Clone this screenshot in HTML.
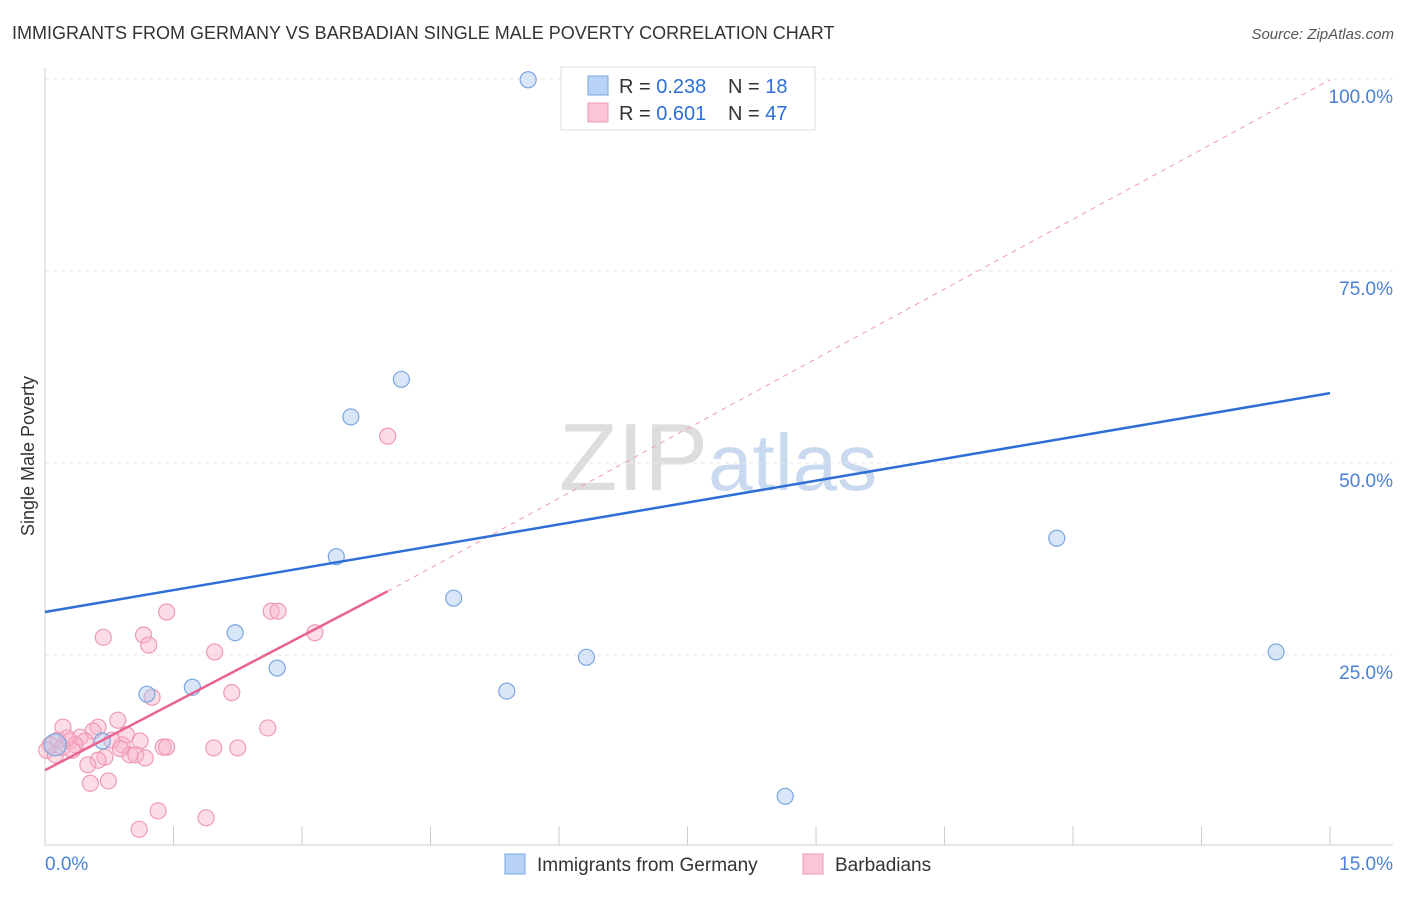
<!DOCTYPE html>
<html><head><meta charset="utf-8">
<style>
body{margin:0;background:#fff;font-family:"Liberation Sans",sans-serif;}
svg text{font-family:"Liberation Sans",sans-serif;}
</style></head>
<body>
<svg id="chart" width="1406" height="892" xmlns="http://www.w3.org/2000/svg">
<text x="12" y="39" font-size="18" fill="#333">IMMIGRANTS FROM GERMANY VS BARBADIAN SINGLE MALE POVERTY CORRELATION CHART</text>
<text x="1394" y="39" font-size="15" fill="#555" text-anchor="end" font-style="italic">Source: ZipAtlas.com</text>
<text x="718" y="490" font-size="96" text-anchor="middle" fill="#ddd" font-family="Liberation Serif"><tspan>ZIP</tspan><tspan fill="#c9daf0" font-family="Liberation Sans" font-size="80">atlas</tspan></text>
<text transform="translate(34,456) rotate(-90)" font-size="18" fill="#333" text-anchor="middle">Single Male Poverty</text>
<g id="grid"></g>
<g id="axes"></g>
<g id="marks"></g>
<g>
<rect x="561" y="67" width="254" height="63" fill="#fff" stroke="#ddd"/>
<rect x="588" y="76" width="20" height="19" fill="#b8d3f5" stroke="#7aa7e0"/>
<rect x="588" y="103" width="20" height="19" fill="#fbc5d5" stroke="#ef9ab5"/>
<text x="619" y="93" font-size="20" fill="#333">R = <tspan fill="#2e6fd6">0.238</tspan></text>
<text x="728" y="93" font-size="20" fill="#333">N = <tspan fill="#2e6fd6">18</tspan></text>
<text x="619" y="120" font-size="20" fill="#333">R = <tspan fill="#2e6fd6">0.601</tspan></text>
<text x="728" y="120" font-size="20" fill="#333">N = <tspan fill="#2e6fd6">47</tspan></text>
</g>
<g>
<rect x="505" y="854" width="20" height="20" fill="#b8d3f5" stroke="#7aa7e0"/>
<text x="537" y="871" font-size="19" fill="#333">Immigrants from Germany</text>
<rect x="803" y="854" width="20" height="20" fill="#fbc5d5" stroke="#ef9ab5"/>
<text x="835" y="871" font-size="19" fill="#333">Barbadians</text>
</g>
</svg>
<script>
const yTicks=[25,50,75,100];
const yTickLabels=["25.0%","50.0%","75.0%","100.0%"];
const xTicks=[0,1.5,3,4.5,6,7.5,9,10.5,12,13.5,15];
const germanyX=[5.64,7.13,7.93,4.16,3.57,3.40,4.77,2.22,2.71,1.72,1.19,5.39,6.32,11.81,14.37,8.64,0.67,0.12];
const germanyY=[99.9,99.9,99.9,60.9,56.0,37.8,32.4,27.9,23.3,20.8,19.9,20.3,24.7,40.2,25.4,6.6,13.8,13.3];
const barbX=[4.0,1.42,2.64,2.72,3.15,0.68,1.15,1.21,1.98,1.25,2.18,2.60,0.85,0.21,0.62,0.95,0.56,0.29,0.41,0.47,0.15,0.06,0.20,0.35,0.90,1.11,1.38,1.42,1.97,2.25,0.70,0.99,1.06,1.17,0.62,0.50,0.53,0.74,1.32,1.10,1.88,0.02,0.12,0.32,0.78,0.26,0.88];
const barbY=[53.5,30.6,30.7,30.7,27.9,27.3,27.6,26.3,25.4,19.5,20.1,15.5,16.5,15.6,15.6,14.6,15.1,13.8,14.3,13.8,13.9,13.3,12.9,13.3,13.3,13.8,13.0,13.0,12.9,12.9,11.7,12.0,12.0,11.6,11.3,10.7,8.3,8.6,4.7,2.3,3.8,12.6,12.0,12.6,13.9,14.2,12.8];
const germanyLine=[[0,30.6],[15,59.1]];
const barbLine=[[0,10.0],[4.0,33.3]];
const barbDash=[[4.0,33.3],[15,99.9]];
const sx=v=>45+v*85.67, sy=v=>847-v*7.68;
const NS="http://www.w3.org/2000/svg";
function mk(tag,attrs,parent){const e=document.createElementNS(NS,tag);for(const k in attrs)e.setAttribute(k,attrs[k]);document.getElementById(parent).appendChild(e);return e;}
yTicks.forEach((t,i)=>{
 const g=mk('line',{x1:45,x2:1393,y1:sy(t),y2:sy(t),stroke:'#e6e6e6','stroke-dasharray':'4,4'},'grid');
 
 
 const l=mk('text',{x:1393,y:sy(t)+24,'font-size':19,fill:'#4a80d6','text-anchor':'end'},'axes');
 l.textContent=yTickLabels[i];
 
 
});
const topGrid=mk('line',{x1:45,x2:1393,y1:79,y2:79,stroke:'#e6e6e6','stroke-dasharray':'4,4'},'grid');


const ya=mk('line',{x1:45,x2:45,y1:68,y2:845,stroke:'#ccc'},'axes');


const xa=mk('line',{x1:45,x2:1393,y1:845,y2:845,stroke:'#ccc'},'axes');


xTicks.forEach(t=>{const e=mk('line',{x1:sx(t),x2:sx(t),y1:845,y2:826,stroke:'#ccc'},'axes');
 
 });
const x0=mk('text',{x:45,y:870,'font-size':19,fill:'#4a80d6'},'axes');x0.textContent='0.0%';


const x1=mk('text',{x:1393,y:870,'font-size':19,fill:'#4a80d6','text-anchor':'end'},'axes');x1.textContent='15.0%';


barbX.forEach((v,i)=>{const c=mk('circle',{cx:sx(v),cy:sy(barbY[i]),r:8,fill:'rgba(248,180,200,0.45)',stroke:'#ef9ab5','stroke-width':1.2},'marks');
 
 });
germanyX.forEach((v,i)=>{const c=mk('circle',{cx:sx(v),cy:sy(germanyY[i]),r:(i==17?11:8),fill:'rgba(170,200,240,0.45)',stroke:'#7aa7e0','stroke-width':1.2},'marks');
 
 });
const d=mk('line',{x1:sx(barbDash[0][0]),y1:sy(barbDash[0][1]),x2:sx(barbDash[1][0]),y2:sy(barbDash[1][1]),stroke:'#ef9ab5','stroke-dasharray':'5,5','stroke-width':1},'marks');


const bl=mk('line',{x1:sx(barbLine[0][0]),y1:sy(barbLine[0][1]),x2:sx(barbLine[1][0]),y2:sy(barbLine[1][1]),stroke:'#e8638f','stroke-width':2.5},'marks');


const gl=mk('line',{x1:sx(germanyLine[0][0]),y1:sy(germanyLine[0][1]),x2:sx(germanyLine[1][0]),y2:sy(germanyLine[1][1]),stroke:'#2e6fd6','stroke-width':2.5},'marks');


</script>
</body></html>
